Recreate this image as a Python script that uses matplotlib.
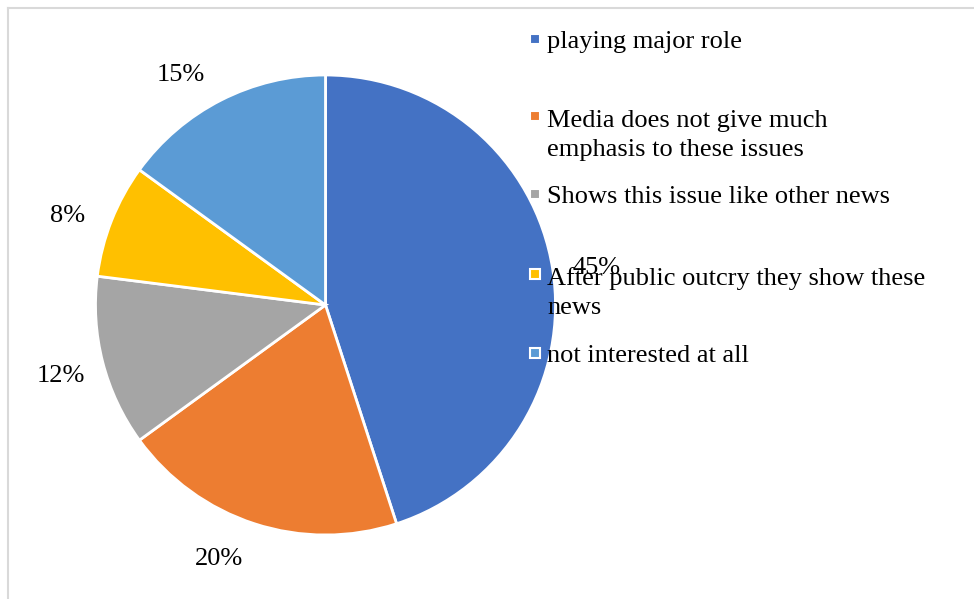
import numpy as np
import matplotlib
matplotlib.use("Agg")
import matplotlib.pyplot as plt
from matplotlib.lines import Line2D
from matplotlib.patches import Rectangle

categories = [
    "playing major role",
    "Media does not give much\nemphasis to these issues",
    "Shows this issue like other news",
    "After public outcry they show these\nnews",
    "not interested at all",
]
shares = [45, 20, 12, 8, 15]
colors = ["#4472C4", "#ED7D31", "#A5A5A5", "#FFC000", "#5B9BD5"]
# small angular nudges (degrees, counter-clockwise) for the value labels
label_nudge = [-0.75, -5.0, 0.1, 2.1, 4.8]

W, H = 974, 599
plt.rcParams["font.family"] = ["Liberation Serif", "DejaVu Serif"]
fig = plt.figure(figsize=(W / 100, H / 100), dpi=100)

# pie area: centre (325.5, 305) px, radius 230 px
cx, cy, r = 325.5, 305, 230
ax = fig.add_axes([(cx - r) / W, (H - cy - r) / H, 2 * r / W, 2 * r / H])
wedges, _, pct = ax.pie(
    shares,
    colors=colors,
    startangle=90,
    counterclock=False,
    autopct=lambda p: f"{p:.0f}%",
    pctdistance=1.19,
    wedgeprops=dict(edgecolor="white", linewidth=2),
    textprops=dict(fontsize=19, color="black"),
)
for t, da in zip(pct, label_nudge):
    x, y = t.get_position()
    a = np.arctan2(y, x) + np.deg2rad(da)
    d = np.hypot(x, y)
    t.set_position((d * np.cos(a), d * np.sin(a)))
    t.set_va("center_baseline")
    t.set_clip_on(False)
ax.set_xlim(-1, 1)
ax.set_ylim(-1, 1)
ax.set_aspect("equal")
ax.axis("off")

# legend
first_baselines = [48, 125, 203, 283, 362]
line_step = 31
for label, color, yb in zip(categories, colors, first_baselines):
    n = label.count("\n")
    ym = yb - 9
    fig.add_artist(Rectangle(((535 - 5) / W, (H - ym - 5) / H), 10 / W, 10 / H,
                             transform=fig.transFigure, facecolor=color,
                             edgecolor="white", linewidth=1.5))
    fig.text(547 / W, (H - yb - n * line_step) / H, label, fontsize=19,
             va="baseline", ha="left", linespacing=1.42)

# outer frame (top and left edges)
fig.add_artist(Line2D([7.5 / W, 1], [(H - 7.5) / H] * 2, color="#D9D9D9",
                      linewidth=1.5, transform=fig.transFigure))
fig.add_artist(Line2D([7.5 / W] * 2, [0, (H - 7.5) / H], color="#D9D9D9",
                      linewidth=1.5, transform=fig.transFigure))

fig.savefig("out.png", dpi=100, facecolor="white")
